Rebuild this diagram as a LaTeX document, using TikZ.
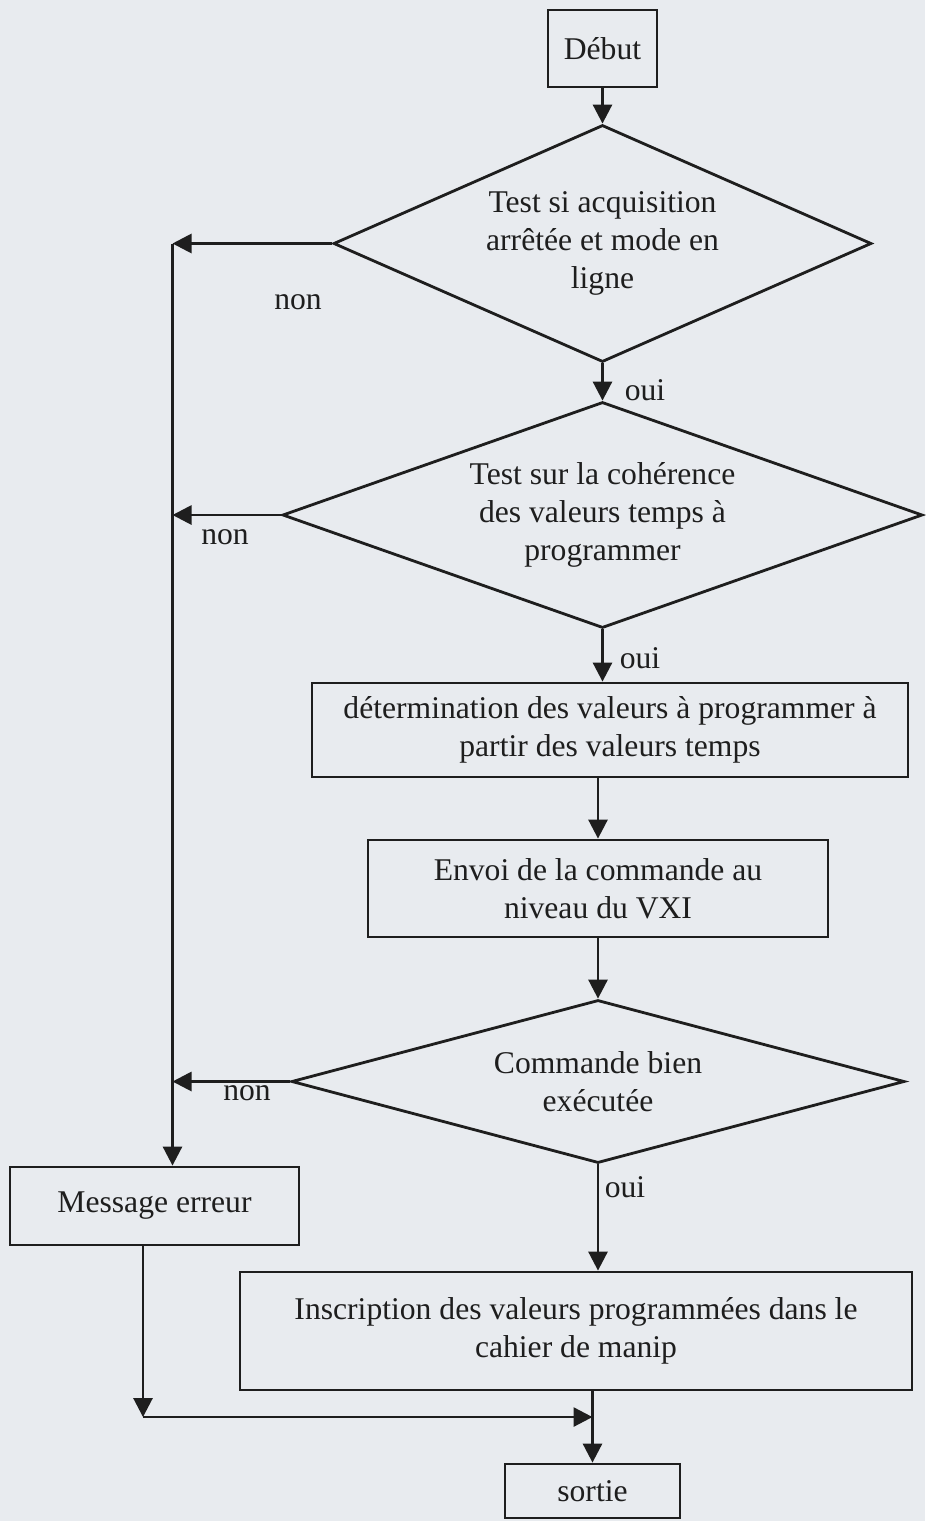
\documentclass[tikz,border=0pt]{standalone}
\usepackage{fontspec}
\setmainfont{Liberation Serif}
\usepackage{tikz}
\usetikzlibrary{arrows.meta,shapes.geometric,calc}
\definecolor{paper}{HTML}{E8EBEF}
\definecolor{ink}{HTML}{1E1E1E}
\tikzset{
  pg/.style={align=center, font=\fontsize{18}{21.5}\selectfont, text=ink, inner sep=0pt},
  pg box/.style={pg, draw=ink, line width=1.6pt},
  pg test/.style={pg, diamond, draw=ink, line width=1.6pt},
  pg arr/.style={-{Triangle[length=3.8mm,width=3.8mm]}, line width=1.6pt, ink},
  pg lab/.style={font=\fontsize{18}{21.5}\selectfont, text=ink, inner sep=1pt},
}

\begin{document}
\begin{tikzpicture}[x=1cm, y=1cm]
  \useasboundingbox (0,0) rectangle (18.5,-30.42);
  \fill[paper] (0,0) rectangle (18.5,-30.42);
  % main column
  \node[pg box, minimum width=2.18cm, minimum height=1.54cm] (debut) at (12.05,-0.97) {Début};
  \node[pg test, aspect=2.27, minimum width=10.76cm, minimum height=4.74cm] (t1) at (12.05,-4.87)
     {Test si acquisition\\arrêtée et mode en\\ligne};
  \node[pg test, aspect=2.83, minimum width=12.8cm, minimum height=4.52cm] (t2) at (12.05,-10.3)
     {Test sur la cohérence\\des valeurs temps à\\programmer};
  \node[pg box, minimum width=11.92cm, minimum height=1.88cm] (det) at (12.2,-14.6)
     {détermination des valeurs à programmer à\\partir des valeurs temps};
  \node[pg box, minimum width=9.2cm, minimum height=1.94cm] (envoi) at (11.96,-17.77)
     {Envoi de la commande au\\niveau du VXI};
  \node[pg test, aspect=3.76, minimum width=12.26cm, minimum height=3.26cm] (t3) at (11.96,-21.63)
     {Commande bien\\exécutée};
  \node[pg box, minimum width=5.78cm, minimum height=1.56cm] (msg) at (3.09,-24.12) {Message erreur};
  \node[pg box, minimum width=13.44cm, minimum height=2.36cm] (inscr) at (11.52,-26.62)
     {Inscription des valeurs programmées dans le\\cahier de manip};
  \node[pg box, minimum width=3.5cm, minimum height=1.08cm] (sortie) at (11.85,-29.82) {sortie};

  \draw[pg arr] (debut) -- (t1);
  \draw[pg arr] (t1) -- (t2);
  \draw[pg arr] (t2.south) -- (t2.south |- det.north);
  \draw[pg arr] (envoi.north |- det.south) -- (envoi.north);
  \draw[pg arr] (envoi) -- (t3);
  \draw[pg arr] (t3.south) -- (t3.south |- inscr.north);
  \draw[pg arr] (sortie.north |- inscr.south) -- (sortie.north);

  % error path on the left
  \coordinate (bus) at (3.45,0);
  \coordinate (drop) at (2.86,0);
  \coordinate (jn) at ($(sortie.north |- inscr.south)!0.36!(sortie.north)$);
  \draw[pg arr] (t1.west -| bus) -- (bus |- msg.north);
  \foreach \t in {t1,t2,t3}
     \draw[pg arr] (\t.west) -- (\t.west -| bus);
  \draw[pg arr] (msg.south -| drop) -- (drop |- jn);
  \draw[pg arr] (drop |- jn) -- (jn);

  \node[pg lab] (non1) at (5.96,-6.04) {non};
  \node[pg lab] (non2) at (4.5,-10.74) {non};
  \node[pg lab, anchor=north] (non3) at (4.94,-21.66) {non};
  \node[pg lab] (oui1) at (12.9,-7.8) {oui};
  \node[pg lab] (oui2) at (12.8,-13.16) {oui};
  \node[pg lab] (oui3) at (12.5,-23.74) {oui};
\end{tikzpicture}
\end{document}
